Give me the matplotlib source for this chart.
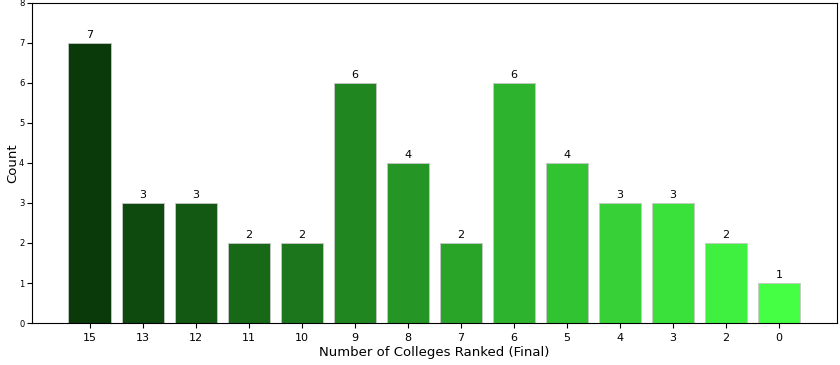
import matplotlib
matplotlib.use("Agg")
import matplotlib.pyplot as plt
import numpy as np
from matplotlib.colors import LinearSegmentedColormap

categories = ["15", "13", "12", "11", "10", "9", "8", "7", "6", "5", "4", "3", "2", "0"]
counts = [7, 3, 3, 2, 2, 6, 4, 2, 6, 4, 3, 3, 2, 1]

cmap = LinearSegmentedColormap.from_list("g", ["#0a3a0a", "#44ff44"])
colors = [cmap(i / (len(categories) - 1)) for i in range(len(categories))]

fig = plt.figure(figsize=(8.4, 3.65), dpi=100)
ax = fig.add_axes([0.038, 0.115, 0.958, 0.877])
x = np.arange(len(categories))
bars = ax.bar(x, counts, width=0.8, color=colors, edgecolor="#c8c8c8", linewidth=0.6)
for xi, v in zip(x, counts):
    ax.text(xi, v + 0.08, str(v), ha="center", va="bottom", fontsize=8)
ax.set_xticks(x)
ax.set_xticklabels(categories, fontsize=8)
ax.set_ylim(0, 8)
ax.set_yticks(range(0, 9))
ax.tick_params(axis="y", labelsize=6, pad=2)
ax.set_xlabel("Number of Colleges Ranked (Final)", fontsize=9.5, labelpad=2)
ax.set_ylabel("Count", fontsize=9.5)
ax.yaxis.set_label_coords(-0.016, 0.5)
fig.savefig("out.png", dpi=100)
